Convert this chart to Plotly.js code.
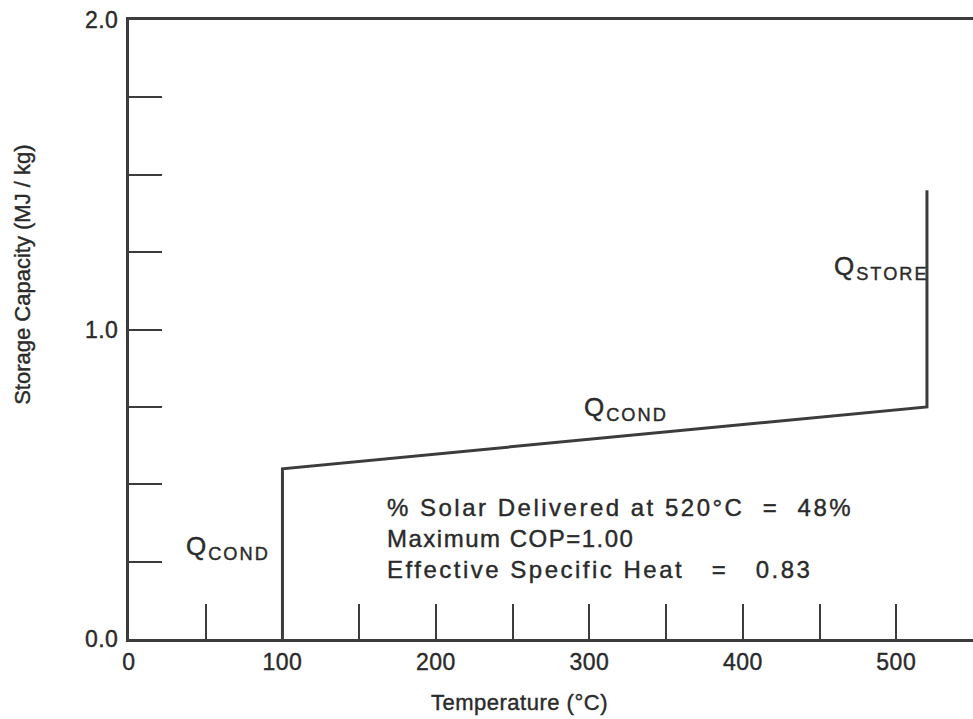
<!DOCTYPE html>
<html>
<head>
<meta charset="utf-8">
<script src="https://cdn.plot.ly/plotly-3.0.1.min.js"></script>
<style>
html, body { margin: 0; padding: 0; background: #fff; }
#chart { width: 973px; height: 719px; }
g.annotation[data-index="0"] text { letter-spacing: 0px; }
g.annotation[data-index="1"] text { letter-spacing: 0.5px; }
g.annotation[data-index="2"] text,
g.annotation[data-index="3"] text,
g.annotation[data-index="4"] text { letter-spacing: 2px; }
g.annotation[data-index="5"] text,
g.annotation[data-index="7"] text { letter-spacing: 2.5px; }
g.annotation[data-index="6"] text { letter-spacing: 1.5px; }
.xtick text, .ytick text { letter-spacing: 0.5px; }
#chart svg text { stroke: #2a2a2a; stroke-width: 0.4px; }
</style>
</head>
<body>
<div id="chart"></div>
<script>
// Data
var temperatureC = [100, 100, 520, 520];
var storageCapacity = [0, 0.55, 0.75, 1.45];

var xTickVals = [0, 50, 100, 150, 200, 250, 300, 350, 400, 450, 500];
var xTickText = ['0', '', '100', '', '200', '', '300', '', '400', '', '500'];
var yTickVals = [0, 0.25, 0.5, 0.75, 1.0, 1.25, 1.5, 1.75, 2.0];
var yTickText = ['0.0', '', '', '', '1.0', '', '', '', '2.0'];

var infoLines = [
  '% Solar Delivered at 520°C  =  48%',
  'Maximum COP=1.00',
  'Effective Specific Heat   =   0.83'
];

var ink = '#3c3c3c';
var txt = '#2a2a2a';
var fontFam = 'Liberation Sans, Arial, sans-serif';

var trace = {
  x: temperatureC,
  y: storageCapacity,
  mode: 'lines',
  line: { color: ink, width: 3 },
  hoverinfo: 'skip',
  showlegend: false
};

var annotations = [
  { xref: 'paper', yref: 'paper', x: -0.127, y: 0.588, xanchor: 'center', yanchor: 'middle',
    text: 'Storage Capacity (MJ / kg)', textangle: -90, showarrow: false,
    font: { family: fontFam, size: 22, color: txt } },
  { xref: 'paper', yref: 'paper', x: 0.463, y: -0.103, xanchor: 'center', yanchor: 'middle',
    text: 'Temperature (°C)', showarrow: false,
    font: { family: fontFam, size: 22, color: txt } },
  { xref: 'x', yref: 'y', x: 36, y: 0.295, xanchor: 'left', align: 'left', text: 'Q<sub>COND</sub>',
    showarrow: false, font: { family: fontFam, size: 26, color: txt } },
  { xref: 'x', yref: 'y', x: 295, y: 0.745, xanchor: 'left', align: 'left', text: 'Q<sub>COND</sub>',
    showarrow: false, font: { family: fontFam, size: 26, color: txt } },
  { xref: 'x', yref: 'y', x: 458, y: 1.2, xanchor: 'left', align: 'left', text: 'Q<sub>STORE</sub>',
    showarrow: false, font: { family: fontFam, size: 26, color: txt } }
];
var infoY = [0.426, 0.326, 0.223];
for (var i = 0; i < infoLines.length; i++) {
  annotations.push({ xref: 'x', yref: 'y', x: 167, y: infoY[i], xanchor: 'left', yanchor: 'middle',
    align: 'left', text: infoLines[i], showarrow: false,
    font: { family: fontFam, size: 24, color: txt } });
}

var layout = {
  width: 973, height: 719,
  margin: { l: 129, r: 0, t: 20, b: 80 },
  paper_bgcolor: '#ffffff', plot_bgcolor: '#ffffff',
  xaxis: {
    range: [0, 550], showgrid: false, zeroline: false,
    showline: true, linecolor: ink, linewidth: 3, mirror: true,
    ticks: 'inside', ticklen: 35, tickwidth: 2, tickcolor: ink,
    tickmode: 'array', tickvals: xTickVals, ticktext: xTickText,
    tickfont: { family: fontFam, size: 23, color: txt }
  },
  yaxis: {
    range: [0, 2.0], showgrid: false, zeroline: false,
    showline: true, linecolor: ink, linewidth: 3,
    ticks: 'inside', ticklen: 33, tickwidth: 2, tickcolor: ink,
    tickmode: 'array', tickvals: yTickVals, ticktext: yTickText,
    ticklabelstandoff: 3,
    tickfont: { family: fontFam, size: 23, color: txt }
  },
  annotations: annotations
};

Plotly.newPlot('chart', [trace], layout, { displayModeBar: false, staticPlot: true });
</script>
</body>
</html>
